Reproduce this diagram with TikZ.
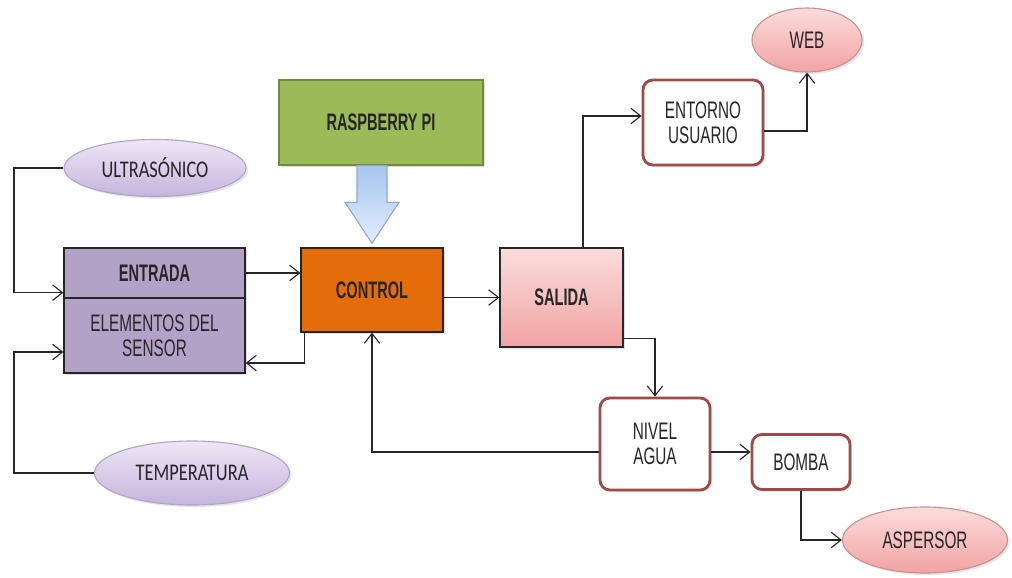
\documentclass[tikz,border=0pt]{standalone}
\usepackage{fontspec}
\usepackage{tikz}
\usetikzlibrary{calc,arrows.meta,shapes,shadows}
\usetikzlibrary{positioning}
\newfontfamily\narrowsf[FakeStretch=0.64,BoldFeatures={FakeStretch=0.61}]{Liberation Sans}
\newfontfamily\calibsf[FakeStretch=0.77]{Carlito}
\definecolor{lilac}{HTML}{B3A2C7}
\definecolor{lilaclight}{HTML}{EEE6F6}
\definecolor{lilacdark}{HTML}{C6B5DE}
\definecolor{ctrlorange}{HTML}{E46C0A}
\definecolor{rpigreen}{HTML}{9BBB59}
\definecolor{rpiborder}{HTML}{71893F}
\definecolor{rosetop}{HTML}{FBDCDC}
\definecolor{rosebot}{HTML}{F2A3A3}
\definecolor{redline}{HTML}{A04A48}
\definecolor{inktext}{HTML}{262626}
\definecolor{skytop}{HTML}{A6C6F0}
\definecolor{skybot}{HTML}{E2EEFB}
\definecolor{skyline}{HTML}{8FA8C8}

\begin{document}
\begin{tikzpicture}[x=0.025cm, y=-0.025cm,
    box/.style={rectangle, draw=inktext, line width=0.9pt, text=inktext,
      font=\narrowsf\fontsize{17}{18}\selectfont, align=center,
      drop shadow={opacity=0.25, shadow xshift=1.5pt, shadow yshift=-1.5pt}},
    state/.style={rectangle, rounded corners=7pt, draw=redline, line width=2pt, fill=white,
      text=inktext, font=\narrowsf\fontsize{17}{18}\selectfont, align=center,
      drop shadow={opacity=0.2, shadow xshift=1.5pt, shadow yshift=-1.5pt}},
    sensor/.style={ellipse, draw=lilacdark!70!gray, line width=0.8pt, top color=lilaclight,
      bottom color=lilacdark, text=inktext, font=\calibsf\fontsize{17}{19}\selectfont,
      inner sep=0pt, drop shadow={opacity=0.2, shadow xshift=1.5pt, shadow yshift=-1.5pt}},
    actuator/.style={ellipse, draw=redline!60, line width=0.8pt, top color=rosetop,
      bottom color=rosebot, text=inktext, font=\narrowsf\fontsize{17}{19}\selectfont,
      inner sep=0pt, drop shadow={opacity=0.2, shadow xshift=1.5pt, shadow yshift=-1.5pt}},
    arr/.style={draw=inktext, line width=0.8pt, -{Straight Barb[length=7pt,width=11pt]}},
    bigarrow/.style={draw=skyline, line width=0.8pt, top color=skytop, bottom color=skybot}
    ]
    \def\pxl{0.025cm}
    \useasboundingbox (0,0) rectangle (1012,578);

    % sensors on the left
    \node[sensor, minimum width=182*\pxl, minimum height=57*\pxl] (ultra) at (155,168) {ULTRAS\'ONICO};
    \node[sensor, minimum width=195*\pxl, minimum height=64*\pxl] (temp) at (192,473) {TEMPERATURA};

    % input block, two parts
    \node[box, fill=lilac, minimum width=181*\pxl, minimum height=50*\pxl] (entrada) at (154.5,273) {\bfseries ENTRADA};
    \node[box, fill=lilac, minimum width=181*\pxl, minimum height=75*\pxl] (elem) at (154.5,335.5) {ELEMENTOS DEL\\SENSOR};

    % control and board
    \node[box, fill=ctrlorange, minimum width=142*\pxl, minimum height=84*\pxl] (ctrl) at (372,290) {\bfseries CONTROL};
    \node[box, fill=rpigreen, draw=rpiborder, minimum width=204*\pxl, minimum height=85*\pxl] (rpi) at (381,122.5) {\bfseries RASPBERRY PI};

    % output side
    \node[box, top color=rosetop, bottom color=rosebot, minimum width=123*\pxl, minimum height=99*\pxl] (salida) at (561.5,297.5) {\bfseries SALIDA};
    \node[state, minimum width=120*\pxl, minimum height=85*\pxl] (entorno) at (703,122.5) {ENTORNO\\USUARIO};
    \node[actuator, minimum width=110*\pxl, minimum height=64*\pxl] (web) at (807,40) {WEB};
    \node[state, minimum width=110*\pxl, minimum height=92*\pxl] (nivel) at (655,444) {NIVEL\\AGUA};
    \node[state, minimum width=98*\pxl, minimum height=55*\pxl] (bomba) at (801,462) {BOMBA};
    \node[actuator, minimum width=165*\pxl, minimum height=66*\pxl] (aspersor) at (925,540) {ASPERSOR};

    \coordinate (bus) at (14,0);
    \coordinate (pump) at ($(nivel.east)+(0,8)$);

    % board feeds control
    \path[bigarrow] (rpi.south -| ctrl.north) ++(-15,0) -- ($(ctrl.north)+(-15,-45)$)
      -- ($(ctrl.north)+(-27,-45)$) -- ($(ctrl.north)+(0,-4)$) -- ($(ctrl.north)+(27,-45)$)
      -- ($(ctrl.north)+(15,-45)$) -- ($(rpi.south -| ctrl.north)+(15,0)$) -- cycle;

    % sensor lines
    \draw[arr] (ultra.west) -- (ultra.west -| bus) |- ($(entrada.south west)+(0,-6)$);
    \draw[arr] (temp.west) -- (temp.west -| bus) |- ($(elem.west)+(0,16.5)$);

    % main chain
    \draw[arr] (entrada.east) -- (entrada.east -| ctrl.west);
    \draw[arr] ($(ctrl.south west)+(4,0)$) |- ($(elem.east)+(0,27.5)$);
    \draw[arr] (salida.west -| ctrl.east) -- (salida.west);
    \draw[arr] ($(salida.north)+(21.5,0)$) |- ($(entorno.west)+(0,-6.5)$);
    \draw[arr] ($(entorno.east)+(0,8.5)$) -| (web.south);
    \draw[arr] ($(salida.south east)+(0,-9)$) -| (nivel.north);
    \draw[arr] ($(nivel.west)+(0,8)$) -| (ctrl.south);
    \draw[arr] (pump) -- (pump -| bomba.west);
    \draw[arr] (bomba.south) |- (aspersor.west);
\end{tikzpicture}
\end{document}
